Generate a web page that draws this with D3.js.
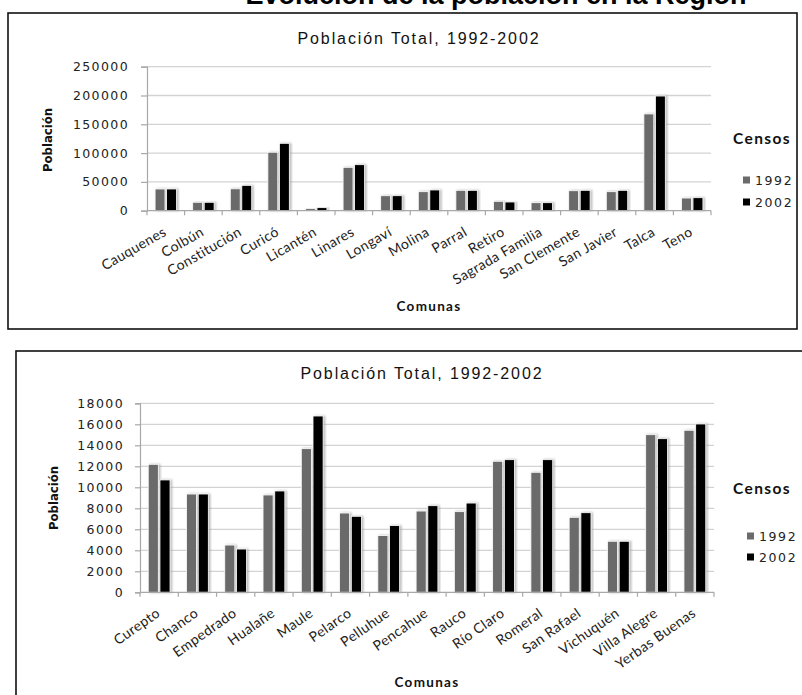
<!DOCTYPE html>
<html><head><meta charset="utf-8">
<script src="https://cdn.jsdelivr.net/npm/d3@7/dist/d3.min.js"></script>
<style>
html,body{margin:0;padding:0;background:#fff;}
svg{display:block;}
</style></head>
<body>
<svg id="c" width="802" height="695"></svg>
<script>
const seriesNames = ["1992", "2002"];
const seriesColors = ["#6b6b6b", "#000000"];

const categories1 = ["Cauquenes","Colbún","Constitución","Curicó","Licantén","Linares","Longaví","Molina","Parral","Retiro","Sagrada Familia","San Clemente","San Javier","Talca","Teno"];
const values1992a = [37700, 14600, 38000, 101500, 3500, 75300, 26000, 33000, 35400, 16300, 13900, 34700, 33000, 168000, 22000];
const values2002a = [37700, 14600, 44000, 117000, 5300, 79900, 26000, 36000, 35400, 15100, 13900, 35400, 35400, 199100, 22600];
const yTicks1 = [0, 50000, 100000, 150000, 200000, 250000];

const categories2 = ["Curepto","Chanco","Empedrado","Hualañe","Maule","Pelarco","Pelluhue","Pencahue","Rauco","Río Claro","Romeral","San Rafael","Vichuquén","Villa Alegre","Yerbas Buenas"];
const values1992b = [12190, 9360, 4500, 9270, 13680, 7550, 5400, 7740, 7680, 12480, 11430, 7140, 4860, 15010, 15430];
const values2002b = [10700, 9360, 4120, 9650, 16790, 7240, 6350, 8250, 8500, 12630, 12630, 7580, 4860, 14630, 16030];
const yTicks2 = [0, 2000, 4000, 6000, 8000, 10000, 12000, 14000, 16000, 18000];

const chartTitle = "Población Total, 1992-2002";
const xTitle = "Comunas";
const yTitle = "Población";
const legendTitle = "Censos";
const pageTitle = "Evolución de la población en la Región";

const svg = d3.select("#c");
const defs = svg.append("defs");
const f = defs.append("filter").attr("id","sh").attr("x","-30%").attr("y","-10%").attr("width","160%").attr("height","120%");
f.append("feDropShadow").attr("dx",1.6).attr("dy",0).attr("stdDeviation",1.1).attr("flood-color","#9a9a9a").attr("flood-opacity",0.7);

// cut-off page title (only its lower part is visible, as in the reference)
svg.append("text").attr("x",496).attr("y",4).attr("text-anchor","middle")
  .attr("font-family","Liberation Sans, Arial, sans-serif").attr("font-weight","bold")
  .attr("font-size",27).attr("fill","#000").text(pageTitle);

function drawChart(cfg) {
  const g = svg.append("g");
  g.append("rect").attr("x",cfg.box[0]).attr("y",cfg.box[1]).attr("width",cfg.box[2]).attr("height",cfg.box[3])
    .attr("fill","#fff").attr("stroke","#111").attr("stroke-width",1.6);

  const y = d3.scaleLinear().domain([0, cfg.yMax]).range([cfg.y0, cfg.yTop]);
  const x0 = d3.scaleBand().domain(cfg.categories).range([cfg.xL, cfg.xR]).paddingInner(0.43).paddingOuter(0.215);
  const x1 = d3.scaleBand().domain(seriesNames).range([0, x0.bandwidth()]).paddingInner(0.14);
  const xs = d3.scaleBand().domain(cfg.categories).range([cfg.xL, cfg.xR]);

  // gridlines
  g.append("g").selectAll("line").data(cfg.yTicks.filter(d=>d>0)).join("line")
    .attr("x1",cfg.xL).attr("x2",cfg.xR).attr("y1",d=>y(d)).attr("y2",d=>y(d))
    .attr("stroke","#d3d3d3").attr("stroke-width",1.3);

  // y axis
  const ya = g.append("g").attr("transform",`translate(${cfg.xL},0)`)
    .call(d3.axisLeft(y).tickValues(cfg.yTicks).tickSize(cfg.tickLen).tickPadding(cfg.tickPad).tickFormat(d3.format("d")));
  ya.select(".domain").attr("stroke","#a8a8a8").attr("stroke-width",1.2);
  ya.selectAll(".tick line").attr("stroke","#a8a8a8").attr("stroke-width",1.2);
  ya.selectAll(".tick text").attr("font-family","DejaVu Sans, Verdana, sans-serif").attr("font-size",12.5)
    .attr("letter-spacing",1.4).attr("fill","#222");

  // bars
  const data = cfg.categories.map((c,i)=>({c, vals:[cfg.v1[i], cfg.v2[i]]}));
  const bg = g.append("g").selectAll("g").data(data).join("g").attr("transform",d=>`translate(${x0(d.c)},0)`);
  bg.selectAll("rect").data(d=>d.vals.map((v,k)=>({k,v}))).join("rect")
    .attr("x",d=>x1(seriesNames[d.k])).attr("width",x1.bandwidth())
    .attr("y",d=>y(d.v)).attr("height",d=>cfg.y0 - y(d.v))
    .attr("fill",d=>seriesColors[d.k]).attr("stroke","#fff").attr("stroke-width",0.8)
    .attr("filter","url(#sh)");

  // x axis
  const xa = g.append("g").attr("transform",`translate(0,${cfg.y0})`);
  xa.append("line").attr("x1",cfg.xL).attr("x2",cfg.xR).attr("stroke","#a8a8a8").attr("stroke-width",1.3);
  const bounds = [cfg.xL].concat(cfg.categories.map(c=>xs(c)+xs.bandwidth()));
  xa.selectAll("line.tk").data(bounds).join("line").attr("class","tk")
    .attr("x1",d=>d).attr("x2",d=>d).attr("y1",0).attr("y2",4.5).attr("stroke","#a8a8a8").attr("stroke-width",1.2);
  xa.selectAll("text.lab").data(cfg.categories).join("text").attr("class","lab")
    .attr("transform",d=>`translate(${x0(d)+x0.bandwidth()/2+cfg.labDx},${cfg.labDy}) rotate(${-cfg.labAng})`)
    .attr("text-anchor","end").attr("font-family","Lato, Carlito, sans-serif").attr("font-size",14)
    .attr("letter-spacing",0.4).attr("fill","#222").text(d=>d);

  // titles
  g.append("text").attr("x",cfg.titleX).attr("y",cfg.titleY).attr("text-anchor","middle")
    .attr("font-family","Liberation Sans, Arial, sans-serif").attr("font-size",16).attr("letter-spacing",cfg.titleLs)
    .attr("fill","#111").text(chartTitle);
  g.append("text").attr("x",(cfg.xL+cfg.xR)/2).attr("y",cfg.xTitleY).attr("text-anchor","middle")
    .attr("dominant-baseline","central")
    .attr("font-family","Lato, sans-serif").attr("font-weight","bold").attr("font-size",13.5).attr("letter-spacing",1.3)
    .attr("fill","#111").text(xTitle);
  g.append("text").attr("transform",`translate(${cfg.yTitleX},${cfg.yTitleY}) rotate(-90)`).attr("text-anchor","middle")
    .attr("dominant-baseline","central")
    .attr("font-family","Liberation Sans Narrow, DejaVu Sans Condensed, sans-serif").attr("font-weight","bold").attr("font-size",13)
    .attr("fill","#111").text(yTitle);

  // legend
  const lg = g.append("g");
  lg.append("text").attr("x",cfg.legX).attr("y",cfg.legTitleY).attr("dominant-baseline","central")
    .attr("font-family","Lato, sans-serif").attr("font-weight","bold").attr("font-size",15.5).attr("letter-spacing",1.4)
    .attr("fill","#111").text(legendTitle);
  const items = lg.selectAll("g").data(seriesNames).join("g")
    .attr("transform",(d,i)=>`translate(${cfg.legMarkX},${cfg.legItemY[i]})`);
  items.append("rect").attr("x",0).attr("y",-3.5).attr("width",7).attr("height",7).attr("fill",(d,i)=>seriesColors[i]);
  items.append("text").attr("x",12).attr("y",0).attr("dominant-baseline","central")
    .attr("font-family","DejaVu Sans, Verdana, sans-serif").attr("font-size",12.5).attr("letter-spacing",1.6)
    .attr("fill","#222").text(d=>d);
}

drawChart({
  box:[8,13,789,316], categories:categories1, v1:values1992a, v2:values2002a,
  yTicks:yTicks1, yMax:250000, y0:210.7, yTop:66.7, xL:147, xR:711,
  tickLen:6, tickPad:12, labDx:1.5, labDy:24, labAng:30, titleX:419, titleY:44, titleLs:1.9,
  xTitleY:306, yTitleX:47, yTitleY:140,
  legX:733, legTitleY:138, legMarkX:743, legItemY:[180,202]
});
drawChart({
  box:[16,351,830,400], categories:categories2, v1:values1992b, v2:values2002b,
  yTicks:yTicks2, yMax:18000, y0:592.3, yTop:403.3, xL:140, xR:714,
  tickLen:5, tickPad:11, labDx:2, labDy:23, labAng:35, titleX:422, titleY:379, titleLs:1.9,
  xTitleY:682, yTitleX:53, yTitleY:498,
  legX:733, legTitleY:488, legMarkX:747, legItemY:[536,557]
});
</script>
</body></html>
